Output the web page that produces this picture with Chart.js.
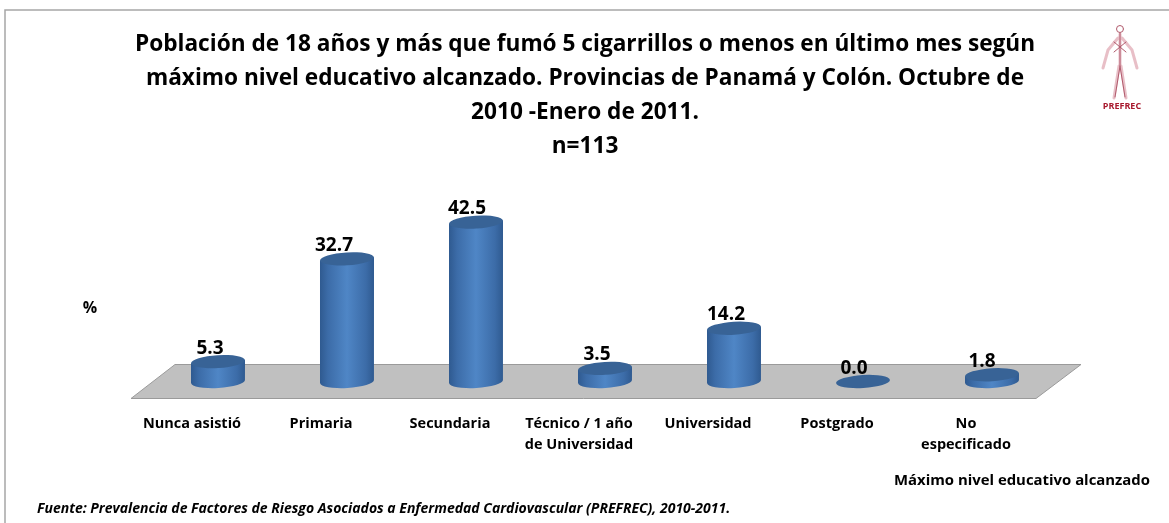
<!DOCTYPE html>
<html><head><meta charset="utf-8">
<style>html,body{margin:0;padding:0;background:#fff}#w{width:1169px;height:523px;position:relative}</style>
<script src="https://cdn.jsdelivr.net/npm/chart.js@4"></script>
</head><body><div id="w"><canvas id="c" width="1169" height="523"></canvas></div>
<script>
const categories=[["Nunca asistió"],["Primaria"],["Secundaria"],["Técnico / 1 año","de Universidad"],["Universidad"],["Postgrado"],["No","especificado"]];
const values=[5.3,32.7,42.5,3.5,14.2,0.0,1.8];
const labelShift=[-8,-13,-9,-8,-8,-9,-10];
const titleLines=["Población de 18 años y más que fumó 5 cigarrillos o menos en último mes según","máximo nivel educativo alcanzado. Provincias de Panamá y Colón. Octubre de","2010 -Enero de 2011.","n=113"];
const yLabel="%";
const xLabel="Máximo nivel educativo alcanzado";
const source="Fuente: Prevalencia de Factores de Riesgo Asociados a Enfermedad Cardiovascular (PREFREC), 2010-2011.";
const FONT='"Open Sans", Lato, sans-serif';
const RY=6.5,TILT=-0.06;
const cyl={id:'cyl',
 beforeDraw(ch){const c=ch.ctx;c.save();
  c.strokeStyle='#a6a6a6';c.lineWidth=1.5;
  c.beginPath();c.moveTo(5,523);c.lineTo(5,10);c.lineTo(1169,10);c.stroke();
  const b=ch.scales.y.getPixelForValue(0);
  c.fillStyle='#c0c0c0';c.beginPath();c.moveTo(131,b+17);c.lineTo(175,b-17);c.lineTo(1081,b-17);c.lineTo(1036,b+17);c.closePath();c.fill();
  c.strokeStyle='#9a9a9a';c.lineWidth=1;c.stroke();
  c.restore();},
 afterDatasetsDraw(ch){const c=ch.ctx;const m=ch.getDatasetMeta(0);c.save();
  m.data.forEach((e,i)=>{const x=e.x,t=e.y,bs=e.base,w=e.width,l=x-w/2,r=x+w/2,rx=w/2,d=rx*Math.sin(-TILT);
   const g=c.createLinearGradient(l,0,r,0);
   g.addColorStop(0,'#2f5a90');g.addColorStop(.15,'#3c6ca8');g.addColorStop(.5,'#4f86c6');g.addColorStop(.85,'#3c6ca8');g.addColorStop(1,'#2f5a90');
   if(bs-t>0.5){c.fillStyle=g;c.beginPath();c.moveTo(l,t+d);c.lineTo(l,bs+d);
    c.ellipse(x,bs,rx,RY,TILT,Math.PI,0,true);c.lineTo(r,t-d);c.closePath();c.fill();}
   c.fillStyle='#386396';c.beginPath();c.ellipse(x,t,rx,RY,TILT,0,Math.PI*2);c.fill();
   c.fillStyle='#000';c.font='bold 19px '+FONT;c.textAlign='center';c.textBaseline='alphabetic';
   c.fillText(values[i].toFixed(1),x+labelShift[i],t-8);
  });
  c.font='bold 22.65px '+FONT;c.textAlign='center';c.fillStyle='#000';
  titleLines.forEach((s,i)=>c.fillText(s,585,51+i*34));
  c.font='bold 16px '+FONT;c.fillText(yLabel,90,313);
  c.font='bold 14.9px '+FONT;c.textAlign='right';c.fillText(xLabel,1150,485);
  c.font='italic bold 14px '+FONT;c.textAlign='left';c.fillText(source,37,513);
  // logo
  const lx=1120;
  c.lineCap='round';
  c.strokeStyle='rgba(224,170,180,.75)';c.lineWidth=3;c.beginPath();
  c.moveTo(lx,34);c.lineTo(lx,66);c.moveTo(lx-1,66);c.lineTo(lx-6,98);c.moveTo(lx+1,66);c.lineTo(lx+6,98);
  c.moveTo(lx-2,38);c.lineTo(lx-12,50);c.lineTo(lx-17,68);c.moveTo(lx+2,38);c.lineTo(lx+12,50);c.lineTo(lx+17,68);c.stroke();
  c.strokeStyle='#b05a6c';c.lineWidth=1;c.beginPath();
  c.arc(lx,29,3.5,0,Math.PI*2);
  c.moveTo(lx,33);c.lineTo(lx,66);c.lineTo(lx-5,97);c.moveTo(lx,66);c.lineTo(lx+5,97);
  c.moveTo(lx-6,42);c.lineTo(lx+6,52);c.moveTo(lx+6,42);c.lineTo(lx-6,52);c.stroke();
  c.fillStyle='#a8192e';c.font='bold 9px '+FONT;c.textAlign='center';c.fillText('PREFREC',1122,109);
  c.restore();}
};
new Chart(document.getElementById('c'),{type:'bar',
 data:{labels:categories,datasets:[{data:values,backgroundColor:'rgba(0,0,0,0)',borderWidth:0,barThickness:54}]},
 plugins:[cyl],
 options:{responsive:false,animation:false,
  layout:{padding:{left:153.5,right:112.5,top:194,bottom:0}},
  plugins:{legend:{display:false},tooltip:{enabled:false},title:{display:false}},
  scales:{
   x:{grid:{display:false},border:{display:false},ticks:{color:'#000',maxRotation:0,autoSkip:false,padding:24,labelOffset:-26,font:{family:FONT,weight:'bold',size:14.5,lineHeight:1.45}},afterFit(s){s.height=141.5;}},
   y:{display:false,min:0,max:50}
  }}});
</script></body></html>
